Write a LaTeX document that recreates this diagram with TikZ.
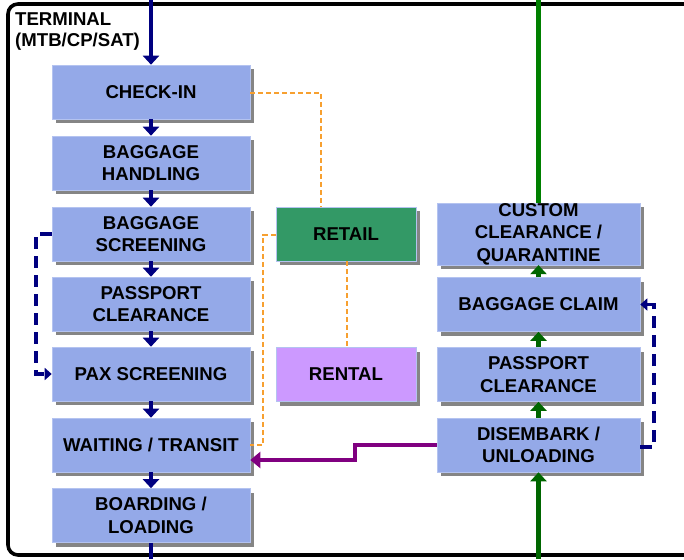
\documentclass[tikz,border=0pt]{standalone}
\usepackage{fontspec}
\setmainfont{Liberation Sans}
\usetikzlibrary{arrows.meta,shadows}
\definecolor{boxblue}{HTML}{94A9E8}
\definecolor{boxedge}{HTML}{B4C3F0}
\definecolor{retailgreen}{HTML}{339966}
\definecolor{rentalpurple}{HTML}{CC99FF}
\definecolor{flownavy}{HTML}{000080}
\definecolor{flowgreen}{HTML}{006600}
\definecolor{exitgreen}{HTML}{008000}
\definecolor{linkorange}{HTML}{F7A030}
\definecolor{transferpurple}{HTML}{800080}
\tikzset{
  boxtext/.style={font=\bfseries\fontsize{18.6}{22.5}\selectfont, align=center, text=black},
  procbox/.style={boxtext, minimum width=198pt, minimum height=54pt, inner sep=0pt,
    fill=boxblue, draw=boxedge, line width=0.6pt,
    drop shadow={shadow xshift=4pt, shadow yshift=-4pt, fill=black!48, opacity=1}},
  arrbox/.style={procbox, minimum width=203pt},
  sidebox/.style={procbox, minimum width=140pt},
  navyarrow/.style={draw=flownavy, line width=4.5pt, -{Triangle[width=16pt,length=9pt]}},
  navyline/.style={draw=flownavy, line width=4.5pt},
  greenarrow/.style={draw=flowgreen, line width=4.5pt, -{Triangle[width=16pt,length=9pt]}},
  greenline/.style={draw=exitgreen, line width=4.8pt},
  linkdash/.style={draw=linkorange, line width=2pt, dash pattern=on 5pt off 3pt},
  loopdash/.style={draw=flownavy, line width=3.8pt, dash pattern=on 12pt off 7pt,
    -{Triangle[width=12pt,length=7pt]}},
  transfer/.style={draw=transferpurple, line width=4pt, -{Triangle[width=16pt,length=10pt]}},
}
\begin{document}
\begin{tikzpicture}[x=1pt,y=-1pt]
  \useasboundingbox (0,0) rectangle (684,559);
  \fill[white] (0,0) rectangle (684,559);

  % terminal frame
  \draw[line width=3.6pt, rounded corners=10pt] (8,4) rectangle (694,555);
  \node[font=\bfseries\fontsize{18.6}{21}\selectfont, align=left, anchor=north west, inner sep=0pt]
    (term) at (15,13) {TERMINAL\\(MTB/CP/SAT)};

  % departure flow
  \node[procbox] (chk)   at (151,92)    {CHECK-IN};
  \node[procbox] (bgh)   at (151,163)   {BAGGAGE\\HANDLING};
  \node[procbox] (bgs)   at (151,234)   {BAGGAGE\\SCREENING};
  \node[procbox] (pps)   at (151,304)   {PASSPORT\\CLEARANCE};
  \node[procbox] (pax)   at (151,374)   {PAX SCREENING};
  \node[procbox] (wait)  at (151,445)   {WAITING / TRANSIT};
  \node[procbox] (board) at (151,515.5) {BOARDING /\\LOADING};

  % commercial areas
  \node[sidebox, fill=retailgreen]  (ret) at (346,234)   {RETAIL};
  \node[sidebox, fill=rentalpurple] (ren) at (346,374.5) {RENTAL};

  % arrival flow
  \node[arrbox] (cus)   at (538.5,234)   {CUSTOM\\CLEARANCE /\\QUARANTINE};
  \node[arrbox] (claim) at (538.5,304.5) {BAGGAGE CLAIM};
  \node[arrbox] (ppr)   at (538.5,374.5) {PASSPORT\\CLEARANCE};
  \node[arrbox] (dis)   at (538.5,445)   {DISEMBARK /\\UNLOADING};

  \coordinate (depin)  at (151,0);
  \coordinate (depout) at (151,559);
  \coordinate (arrin)  at (538.5,559);
  \coordinate (arrout) at (538.5,0);
  \coordinate (pbend)  at (355,452);

  % departure connectors
  \draw[navyarrow] (depin) -- (chk.north);
  \draw[navyarrow] (chk) -- (bgh);
  \draw[navyarrow] (bgh) -- (bgs);
  \draw[navyarrow] (bgs) -- (pps);
  \draw[navyarrow] (pps) -- (pax);
  \draw[navyarrow] (pax) -- (wait);
  \draw[navyarrow] (wait) -- (board);
  \draw[navyline] (board.south) -- (depout);
  \draw[loopdash] (bgs.west) -- ++(-16,0) |- (pax.west);

  % arrival connectors
  \draw[greenarrow] (arrin) -- (dis.south);
  \draw[greenarrow] (dis) -- (ppr);
  \draw[greenarrow] (ppr) -- (claim);
  \draw[greenarrow] (claim) -- (cus);
  \draw[greenline] (cus.north) -- (arrout);
  \draw[loopdash] ([yshift=-2pt]dis.east) -- ++(14,0) |- (claim.east);

  % links to commercial areas
  \draw[linkdash] ([yshift=-1pt]chk.east) -| ([xshift=-25pt]ret.north);
  \draw[linkdash] ([xshift=1pt]ret.south) -- ([xshift=1pt]ren.north);
  \draw[linkdash] ([yshift=-1pt]ret.west) -| ([xshift=12.7pt]wait.east) -- (wait.east);

  % transfer passengers
  \draw[transfer] (dis.west) -| (pbend) |- ([yshift=-15pt]wait.east);
\end{tikzpicture}
\end{document}
